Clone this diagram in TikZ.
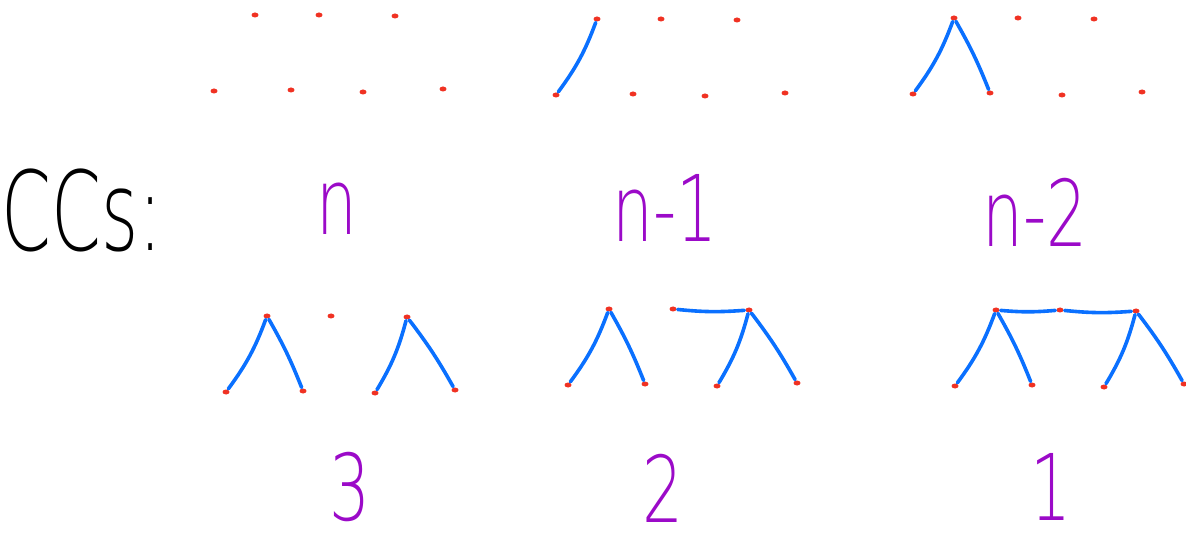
\documentclass[tikz,border=0pt]{standalone}
\usepackage{fontspec}
\usepackage{graphicx}
\usetikzlibrary{shapes.geometric}
\newfontfamily\handfont{DejaVu Sans ExtraLight}
\definecolor{dotred}{RGB}{240,50,35}
\definecolor{edgeblue}{RGB}{10,112,255}
\definecolor{labelpurple}{RGB}{155,10,200}
\newcommand{\narrow}[1]{\scalebox{0.7}[1]{#1}}
% seven dots of one panel: #1 name prefix, #2 bottom left dot
\newcommand{\sevendots}[2]{%
  \begin{scope}[shift={#2}]
    \node[vtx] (#1t1) at (41,-76) {};
    \node[vtx] (#1t2) at (105,-76) {};
    \node[vtx] (#1t3) at (181,-75) {};
    \node[vtx] (#1b1) at (0,0) {};
    \node[vtx] (#1b2) at (77,-1) {};
    \node[vtx] (#1b3) at (149,1) {};
    \node[vtx] (#1b4) at (229,-2) {};
  \end{scope}}

\begin{document}
\begin{tikzpicture}[
    x=1pt, y=-1pt,
    vtx/.style={ellipse, fill=dotred, inner sep=0pt,
        minimum width=7pt, minimum height=5pt},
    link/.style={edgeblue, line width=3.6pt, line cap=round, shorten <=1pt, shorten >=1pt},
    lbl/.style={labelpurple, inner sep=0pt,
        font=\handfont\fontsize{92}{100}\selectfont}
]
    \useasboundingbox (0,0) rectangle (1186,545);

    % top row of panels
    \sevendots{pa}{(214,91)}
    \sevendots{pb}{(556,95)}
    \sevendots{pc}{(913,94)}
    \draw[link] (pbt1) to[bend left=8] (pbb1);
    \draw[link] (pct1) to[bend left=8] (pcb1);
    \draw[link] (pct1) to[bend left=4] (pcb2);

    % bottom row of panels
    \sevendots{pd}{(226,392)}
    \sevendots{pe}{(568,385)}
    \sevendots{pf}{(955,386)}
    \foreach \p in {pd,pe,pf} {
        \draw[link] (\p t1) to[bend left=8] (\p b1);
        \draw[link] (\p t1) to[bend left=4] (\p b2);
        \draw[link] (\p t3) to[bend left=8] (\p b3);
        \draw[link] (\p t3) to[bend left=4] (\p b4);
    }
    \draw[link] (pet2) to[bend right=5] (pet3);
    \draw[link] (pft1) to[bend right=5] (pft2);
    \draw[link] (pft2) to[bend right=5] (pft3);

    % labels
    \node[inner sep=0pt, font=\handfont\fontsize{110}{120}\selectfont] (ccs) at (82,210) {\scalebox{0.65}[1]{CCs:}};
    \node[lbl] (la) at (337,209) {\narrow{n}};
    \node[lbl] (lb) at (665,208) {\narrow{n-1}};
    \node[lbl] (lc) at (1035,212) {\narrow{n-2}};
    \node[lbl] (ld) at (350,487) {\narrow{3}};
    \node[lbl] (le) at (663,488) {\narrow{2}};
    \node[lbl] (lf) at (1051,487) {\narrow{1}};
\end{tikzpicture}
\end{document}
